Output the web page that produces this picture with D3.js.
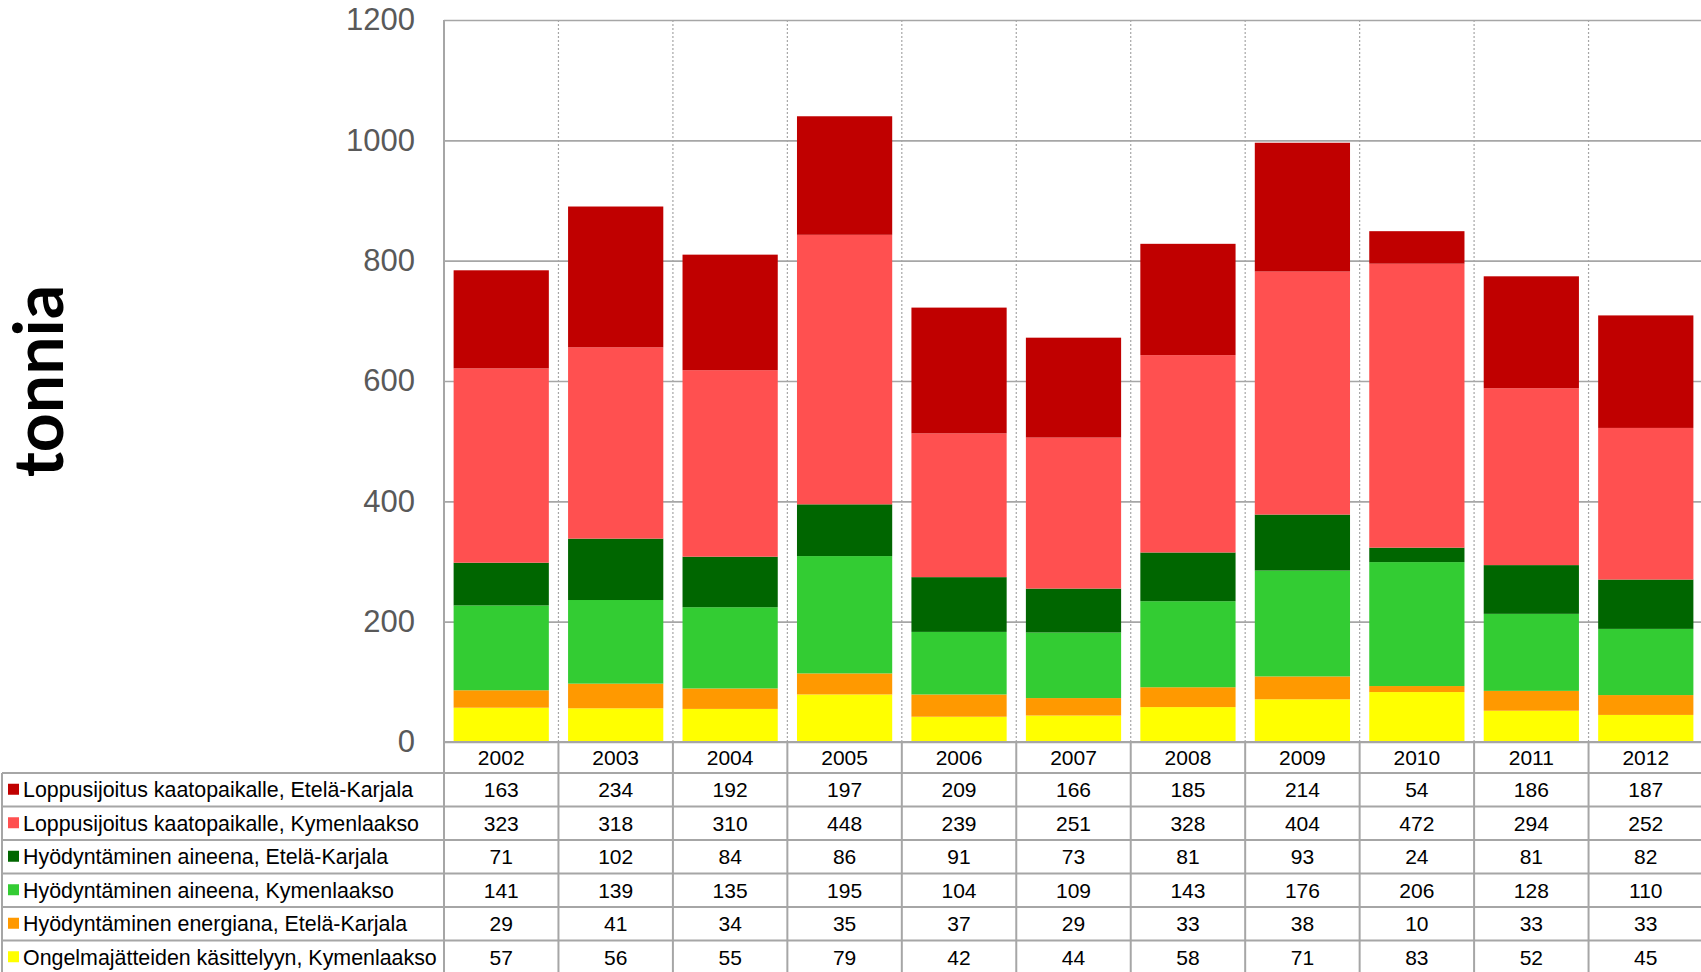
<!DOCTYPE html>
<html>
<head>
<meta charset="utf-8">
<script src="https://cdn.jsdelivr.net/npm/d3@7/dist/d3.min.js"></script>
<style>
  html, body { margin: 0; padding: 0; background: #fff; }
  svg { display: block; }
  text { font-family: "Liberation Sans", Arial, sans-serif; }
</style>
</head>
<body>
<svg id="chart" width="1701" height="972"></svg>
<script>
// ---------- DATA ----------
const years = ["2002","2003","2004","2005","2006","2007","2008","2009","2010","2011","2012"];
const seriesNames = [
  "Loppusijoitus kaatopaikalle, Etelä-Karjala",
  "Loppusijoitus kaatopaikalle, Kymenlaakso",
  "Hyödyntäminen aineena, Etelä-Karjala",
  "Hyödyntäminen aineena, Kymenlaakso",
  "Hyödyntäminen energiana, Etelä-Karjala",
  "Ongelmajätteiden käsittelyyn, Kymenlaakso"
];
const loppuEK   = [163, 234, 192, 197, 209, 166, 185, 214, 54, 186, 187];
const loppuKL   = [323, 318, 310, 448, 239, 251, 328, 404, 472, 294, 252];
const aineEK    = [71, 102, 84, 86, 91, 73, 81, 93, 24, 81, 82];
const aineKL    = [141, 139, 135, 195, 104, 109, 143, 176, 206, 128, 110];
const energiaEK = [29, 41, 34, 35, 37, 29, 33, 38, 10, 33, 33];
const ongelmaKL = [57, 56, 55, 79, 42, 44, 58, 71, 83, 52, 45];
const seriesColors = ["#C00000", "#FF5050", "#006600", "#33CC33", "#FF9900", "#FFFF00"];
const yTicks = [0, 200, 400, 600, 800, 1000, 1200];
const yTitle = "tonnia";

// ---------- LAYOUT ----------
const seriesValues = [loppuEK, loppuKL, aineEK, aineKL, energiaEK, ongelmaKL];
const plotLeft = 444, plotRight = 1703, plotTop = 20, plotBottom = 742;
const headerH = 31, rowH = 33.5, legendLeft = 2;
const svg = d3.select("#chart");

const x = d3.scaleBand().domain(years).range([plotLeft, plotRight]).padding(0);
const y = d3.scaleLinear().domain([0, 1200]).range([plotBottom, plotTop]);
const barInset = x.bandwidth() * 0.084;
const barW = x.bandwidth() - 2 * barInset;

// table rows
const rowData = years.map((yr, i) => {
  const o = { year: yr };
  seriesNames.forEach((n, k) => o[n] = seriesValues[k][i]);
  return o;
});

// horizontal gridlines
svg.append("g")
  .attr("transform", `translate(${plotLeft},0)`)
  .call(d3.axisRight(y).tickValues(yTicks).tickSize(plotRight - plotLeft).tickFormat(""))
  .call(g => g.select(".domain").remove())
  .call(g => g.selectAll(".tick line").attr("stroke", "#A6A6A6").attr("stroke-width", 1.6));

// vertical dotted separators
svg.append("g").selectAll("line")
  .data(years.slice(1))
  .join("line")
  .attr("x1", d => x(d)).attr("x2", d => x(d))
  .attr("y1", plotTop).attr("y2", plotBottom)
  .attr("stroke", "#A6A6A6").attr("stroke-width", 1.2)
  .attr("stroke-dasharray", "2,2");

// stacked bars (bottom = last series)
const stackKeys = seriesNames.slice().reverse();
const stacked = d3.stack().keys(stackKeys)(rowData);
const colorOf = d3.scaleOrdinal().domain(seriesNames).range(seriesColors);

svg.append("g").selectAll("g")
  .data(stacked)
  .join("g")
  .attr("fill", d => colorOf(d.key))
  .selectAll("rect")
  .data(d => d)
  .join("rect")
  .attr("x", d => x(d.data.year) + barInset)
  .attr("width", barW)
  .attr("y", d => y(d[1]))
  .attr("height", d => y(d[0]) - y(d[1]));

// y axis labels
svg.append("g")
  .attr("transform", `translate(${plotLeft},0)`)
  .call(d3.axisLeft(y).tickValues(yTicks).tickSize(0).tickPadding(29).tickFormat(d3.format("d")))
  .call(g => g.select(".domain").remove())
  .call(g => g.selectAll("text")
    .attr("fill", "#595959")
    .style("font-size", "31px")
    .style("font-family", '"Liberation Sans", Arial, sans-serif'));

// left axis line
svg.append("line")
  .attr("x1", plotLeft).attr("x2", plotLeft)
  .attr("y1", plotTop).attr("y2", 972)
  .attr("stroke", "#A6A6A6").attr("stroke-width", 2);

// y title
svg.append("text")
  .attr("transform", `translate(63,381) rotate(-90)`)
  .attr("text-anchor", "middle")
  .style("font-family", "Lato, 'Open Sans', sans-serif")
  .style("font-weight", "bold")
  .style("font-size", "68px")
  .attr("fill", "#000")
  .text(yTitle);

// ---------- DATA TABLE ----------
const tableTop = plotBottom + headerH;
const grid = svg.append("g");
grid.append("line")
  .attr("x1", plotLeft).attr("x2", 1701)
  .attr("y1", plotBottom).attr("y2", plotBottom)
  .attr("stroke", "#A6A6A6").attr("stroke-width", 2);
grid.selectAll("line.row")
  .data(d3.range(seriesNames.length + 1))
  .join("line")
  .attr("class", "row")
  .attr("x1", legendLeft).attr("x2", 1701)
  .attr("y1", i => tableTop + i * rowH).attr("y2", i => tableTop + i * rowH)
  .attr("stroke", "#A6A6A6").attr("stroke-width", 2);
grid.append("line")
  .attr("x1", legendLeft).attr("x2", legendLeft)
  .attr("y1", tableTop).attr("y2", 972)
  .attr("stroke", "#A6A6A6").attr("stroke-width", 2);
grid.selectAll("line.col")
  .data(years.slice(1))
  .join("line")
  .attr("class", "col")
  .attr("x1", d => x(d)).attr("x2", d => x(d))
  .attr("y1", plotBottom).attr("y2", 972)
  .attr("stroke", "#A6A6A6").attr("stroke-width", 2);

// header years
svg.append("g").selectAll("text")
  .data(years)
  .join("text")
  .attr("x", d => x(d) + x.bandwidth() / 2)
  .attr("y", plotBottom + headerH / 2 + 7.5)
  .attr("text-anchor", "middle")
  .style("font-size", "21px")
  .attr("fill", "#000")
  .text(d => d);

// legend rows
const legendRows = svg.append("g").selectAll("g")
  .data(seriesNames)
  .join("g")
  .attr("transform", (d, i) => `translate(0,${tableTop + i * rowH + rowH / 2})`);
legendRows.append("rect")
  .attr("x", 8).attr("y", -6).attr("width", 11).attr("height", 11)
  .attr("fill", d => colorOf(d));
legendRows.append("text")
  .attr("x", 23).attr("y", 7.5)
  .style("font-size", "21.4px")
  .attr("fill", "#000")
  .text(d => d);

// values
seriesNames.forEach((n, k) => {
  svg.append("g").selectAll("text")
    .data(rowData)
    .join("text")
    .attr("x", d => x(d.year) + x.bandwidth() / 2)
    .attr("y", tableTop + k * rowH + rowH / 2 + 7.5)
    .attr("text-anchor", "middle")
    .style("font-size", "21px")
    .attr("fill", "#000")
    .text(d => d[n]);
});
</script>
</body>
</html>
